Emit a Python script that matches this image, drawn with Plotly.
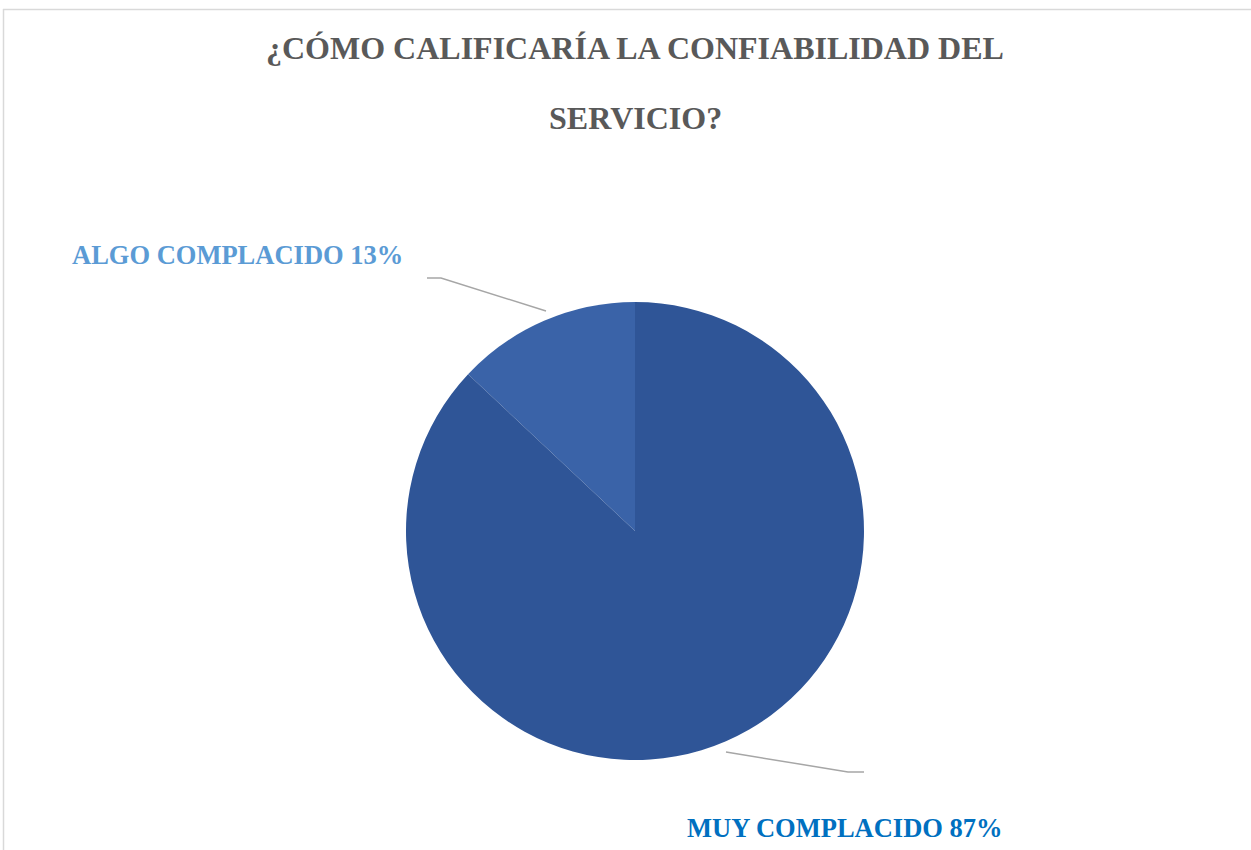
import plotly.graph_objects as go

categories = ["ALGO COMPLACIDO", "MUY COMPLACIDO"]
values = [13, 87]
slice_colors = ["#3A63A8", "#2F5597"]
label_colors = ["#5B9BD5", "#0070C0"]
title_lines = ["¿CÓMO CALIFICARÍA LA CONFIABILIDAD DEL", "SERVICIO?"]

W, H = 1251, 850
cx, cy, r = 635, 531, 229

def px(x):
    return x / W

def py(y):
    return 1 - y / H

total = sum(values)

fig = go.Figure()
fig.add_trace(go.Pie(
    labels=categories,
    values=values,
    sort=False,
    direction="clockwise",
    rotation=-values[0] / total * 360,
    marker=dict(colors=slice_colors, line=dict(width=0)),
    textinfo="none",
    hoverinfo="label+percent",
    showlegend=False,
    domain=dict(x=[px(cx - r), px(cx + r)], y=[py(cy + r), py(cy - r)]),
))

font_family = "Liberation Serif"

# title lines
for text, y in zip(title_lines, [48, 118]):
    fig.add_annotation(text=f"<b>{text}</b>", x=px(635), y=py(y), xref="paper", yref="paper",
                       xanchor="center", yanchor="middle", showarrow=False,
                       font=dict(family=font_family, size=32, color="#595959"))

# data labels
label_pos = [(70, 255, "left"), (685, 828, "left")]
for cat, v, col, (lx, ly, anc) in zip(categories, values, label_colors, label_pos):
    fig.add_annotation(text=f"<b>{cat} {round(v / total * 100)}%</b>", x=px(lx), y=py(ly),
                       xref="paper", yref="paper", xanchor=anc, yanchor="middle",
                       showarrow=False, font=dict(family=font_family, size=26.5, color=col))

# leader lines
leaders = [
    [(427, 278), (441, 278), (546, 311)],
    [(726, 752), (848, 772), (864, 772)],
]
for pts in leaders:
    path = "M " + " L ".join(f"{px(x)},{py(y)}" for x, y in pts)
    fig.add_shape(type="path", path=path, xref="paper", yref="paper",
                  line=dict(color="#A6A6A6", width=1.5))

# chart border
fig.add_shape(type="line", xref="paper", yref="paper", x0=px(3), x1=1.01, y0=py(9.5), y1=py(9.5),
              line=dict(color="#D9D9D9", width=1.5))
fig.add_shape(type="line", xref="paper", yref="paper", x0=px(3.5), x1=px(3.5), y0=py(9), y1=-0.01,
              line=dict(color="#D9D9D9", width=1.5))

fig.update_layout(
    width=W, height=H,
    margin=dict(l=0, r=0, t=0, b=0),
    paper_bgcolor="white",
    plot_bgcolor="white",
    font=dict(family=font_family),
)

fig.write_html("out.html", config={"displayModeBar": False},
               post_script="document.body.style.margin='0';document.body.style.overflow='hidden';")
